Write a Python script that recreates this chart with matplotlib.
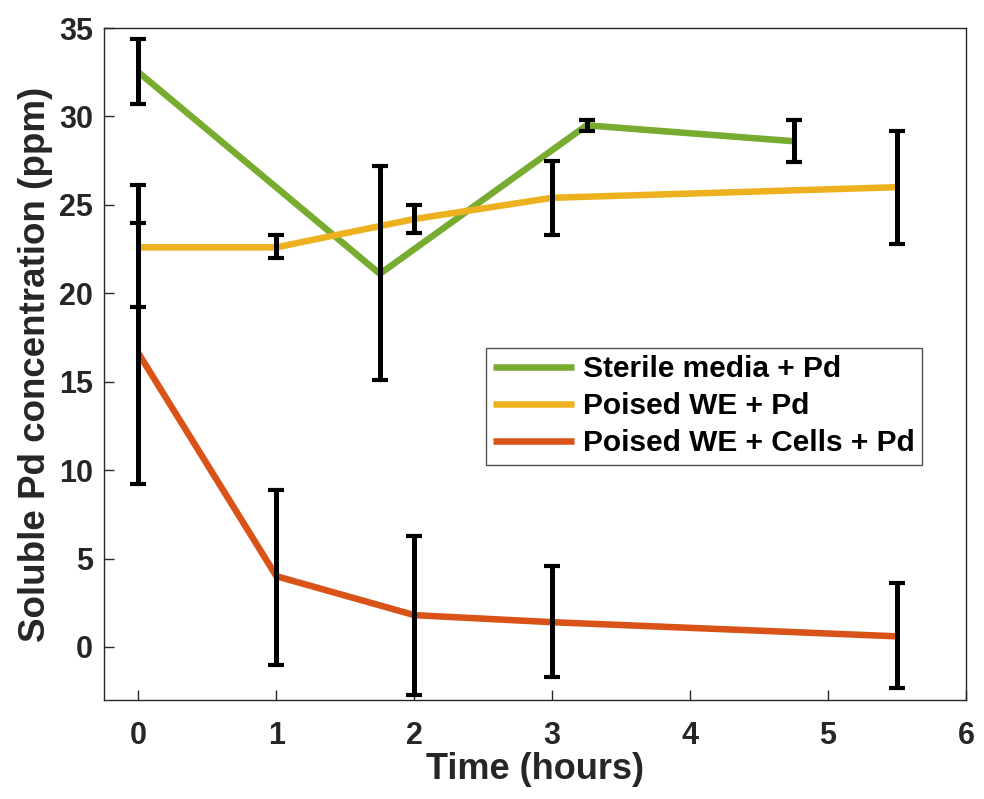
import matplotlib
matplotlib.use("Agg")
import matplotlib.pyplot as plt

plt.rcParams['font.family'] = ['Liberation Sans', 'DejaVu Sans']
plt.rcParams['font.weight'] = 'bold'

# Data
sterile_t = [0, 1.75, 3.25, 4.75]
sterile_y = [32.5, 21.1, 29.5, 28.6]
sterile_lo = [30.7, 15.1, 29.2, 27.4]
sterile_hi = [34.4, 27.2, 29.8, 29.8]

poised_t = [0, 1, 2, 3, 5.5]
poised_y = [22.6, 22.6, 24.2, 25.4, 26.0]
poised_lo = [19.2, 22.0, 23.4, 23.3, 22.8]
poised_hi = [26.1, 23.3, 25.0, 27.5, 29.2]

cells_t = [0, 1, 2, 3, 5.5]
cells_y = [16.6, 4.0, 1.8, 1.4, 0.6]
cells_lo = [9.2, -1.0, -2.7, -1.7, -2.3]
cells_hi = [24.0, 8.9, 6.3, 4.6, 3.6]

labels = ['Sterile media + Pd', 'Poised WE + Pd', 'Poised WE + Cells + Pd']
colors = ['#77AC30', '#EDB120', '#D95319']

fig = plt.figure(figsize=(9.84, 7.99), dpi=100)
ax = fig.add_axes([0.1057, 0.1239, 0.876, 0.841])

series = [(sterile_t, sterile_y, sterile_lo, sterile_hi),
          (poised_t, poised_y, poised_lo, poised_hi),
          (cells_t, cells_y, cells_lo, cells_hi)]

for (t, y, lo, hi), lab, c in zip(series, labels, colors):
    ax.plot(t, y, color=c, lw=4.7, label=lab, zorder=2, solid_capstyle='butt')

for (t, y, lo, hi) in series:
    yerr = [[yy - l for yy, l in zip(y, lo)], [h - yy for yy, h in zip(y, hi)]]
    ax.errorbar(t, y, yerr=yerr, fmt='none', ecolor='black', elinewidth=3.6,
                capsize=5.8, capthick=3.0, zorder=3)

ax.set_xlim(-0.25, 6)
ax.set_ylim(-3, 35)
ax.set_xticks(range(0, 7))
ax.set_yticks(range(0, 36, 5))
ax.tick_params(direction='in', length=7, width=1, colors='#262626',
               labelsize=22, labelcolor='#262626', top=False, right=False)
ax.tick_params(axis='x', pad=15)
ax.tick_params(axis='y', pad=8)
for lbl in ax.get_xticklabels() + ax.get_yticklabels():
    lbl.set_fontweight('bold')
for s in ax.spines.values():
    s.set_color('#262626')
    s.set_linewidth(1)

ax.set_xlabel('Time (hours)', fontsize=26, fontweight='bold', color='#262626', labelpad=1)
ax.set_ylabel('Soluble Pd concentration (ppm)', fontsize=26.5, fontweight='bold', color='#262626', labelpad=4)

leg = ax.legend(loc='lower right', bbox_to_anchor=(0.949, 0.35),
                frameon=True, fancybox=False, edgecolor='#262626',
                handlelength=2.7, handletextpad=0.3, borderpad=0.25,
                borderaxespad=0, labelspacing=0.3, prop={'weight': 'bold', 'size': 21.5})
leg.get_frame().set_linewidth(1)

fig.savefig('out.png', dpi=100)
